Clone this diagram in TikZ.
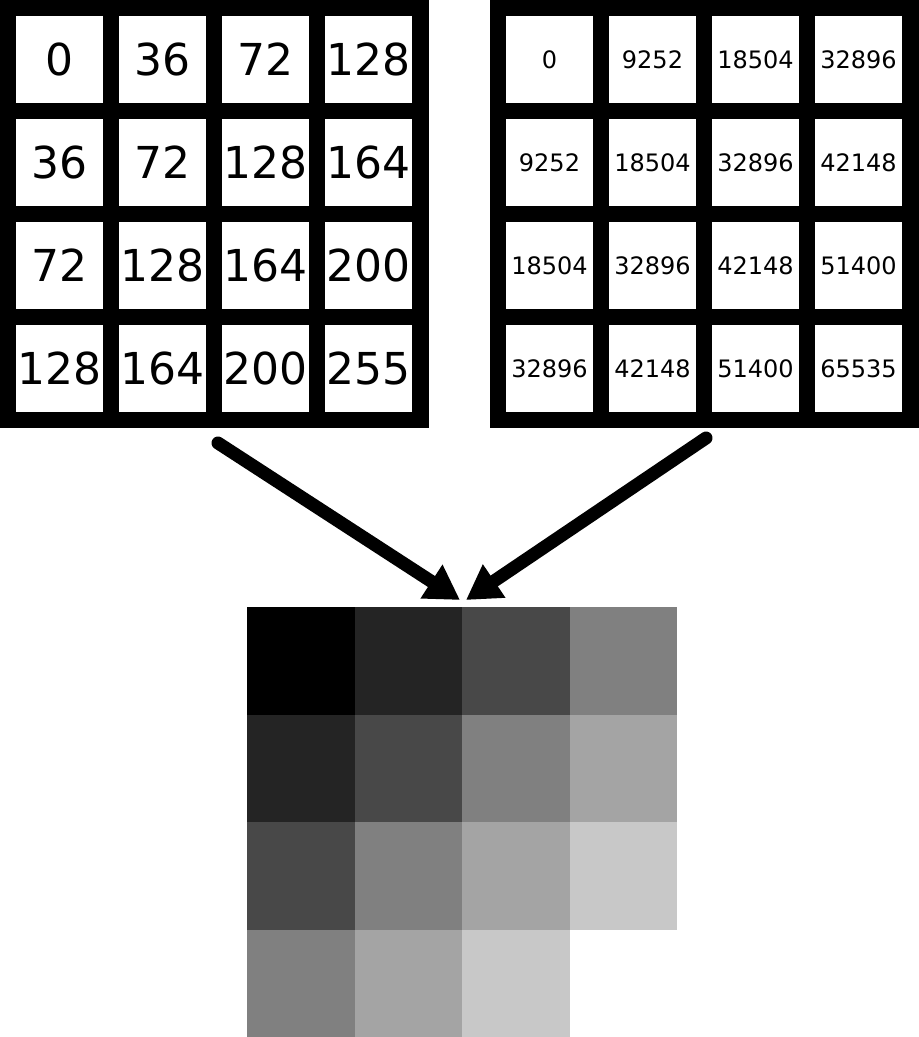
\documentclass[tikz,border=0pt]{standalone}
\usepackage{fontspec}
\setmainfont{DejaVu Sans}
\usetikzlibrary{arrows.meta, positioning}
\definecolor{c0}{RGB}{0,0,0}
\definecolor{c36}{RGB}{36,36,36}
\definecolor{c72}{RGB}{72,72,72}
\definecolor{c128}{RGB}{128,128,128}
\definecolor{c164}{RGB}{164,164,164}
\definecolor{c200}{RGB}{200,200,200}
\definecolor{c255}{RGB}{255,255,255}
\tikzstyle{board} = [fill=black, minimum width=429pt, minimum height=428pt, inner sep=0pt]
\tikzstyle{big}   = [fill=white, minimum size=87pt, inner sep=0pt, font=\fontsize{44}{44}\selectfont]
\tikzstyle{small} = [fill=white, minimum size=87pt, inner sep=0pt, font=\fontsize{24}{24}\selectfont]
\tikzstyle{px}    = [minimum size=107.5pt, inner sep=0pt]
\tikzstyle{arr}   = [draw, line width=13pt, line cap=round, -{Triangle[length=34pt, width=38pt]}]

\begin{document}
\begin{tikzpicture}[x=1pt, y=-1pt]
\useasboundingbox (0,0) rectangle (919,1037);

% boards
\node [board] at ( 214  , 214 ) (eight)   {};
\node [board] at ( 704.5, 214 ) (sixteen) {};

% 8 bit values
\node [big] at (  59.5,  59.5 ) (e11) {0};
\node [big] at ( 162.5,  59.5 ) (e12) {36};
\node [big] at ( 265.5,  59.5 ) (e13) {72};
\node [big] at ( 368.5,  59.5 ) (e14) {128};
\node [big] at (  59.5, 162.5 ) (e21) {36};
\node [big] at ( 162.5, 162.5 ) (e22) {72};
\node [big] at ( 265.5, 162.5 ) (e23) {128};
\node [big] at ( 368.5, 162.5 ) (e24) {164};
\node [big] at (  59.5, 265.5 ) (e31) {72};
\node [big] at ( 162.5, 265.5 ) (e32) {128};
\node [big] at ( 265.5, 265.5 ) (e33) {164};
\node [big] at ( 368.5, 265.5 ) (e34) {200};
\node [big] at (  59.5, 368.5 ) (e41) {128};
\node [big] at ( 162.5, 368.5 ) (e42) {164};
\node [big] at ( 265.5, 368.5 ) (e43) {200};
\node [big] at ( 368.5, 368.5 ) (e44) {255};

% 16 bit values
\node [small] at ( 549.5,  59.5 ) (s11) {0};
\node [small] at ( 652.5,  59.5 ) (s12) {9252};
\node [small] at ( 755.5,  59.5 ) (s13) {18504};
\node [small] at ( 858.5,  59.5 ) (s14) {32896};
\node [small] at ( 549.5, 162.5 ) (s21) {9252};
\node [small] at ( 652.5, 162.5 ) (s22) {18504};
\node [small] at ( 755.5, 162.5 ) (s23) {32896};
\node [small] at ( 858.5, 162.5 ) (s24) {42148};
\node [small] at ( 549.5, 265.5 ) (s31) {18504};
\node [small] at ( 652.5, 265.5 ) (s32) {32896};
\node [small] at ( 755.5, 265.5 ) (s33) {42148};
\node [small] at ( 858.5, 265.5 ) (s34) {51400};
\node [small] at ( 549.5, 368.5 ) (s41) {32896};
\node [small] at ( 652.5, 368.5 ) (s42) {42148};
\node [small] at ( 755.5, 368.5 ) (s43) {51400};
\node [small] at ( 858.5, 368.5 ) (s44) {65535};

% pixels
\node [px, fill=c0]   at ( 300.75, 660.75 ) (p11) {};
\node [px, fill=c36]  at ( 408.25, 660.75 ) (p12) {};
\node [px, fill=c72]  at ( 515.75, 660.75 ) (p13) {};
\node [px, fill=c128] at ( 623.25, 660.75 ) (p14) {};
\node [px, fill=c36]  at ( 300.75, 768.25 ) (p21) {};
\node [px, fill=c72]  at ( 408.25, 768.25 ) (p22) {};
\node [px, fill=c128] at ( 515.75, 768.25 ) (p23) {};
\node [px, fill=c164] at ( 623.25, 768.25 ) (p24) {};
\node [px, fill=c72]  at ( 300.75, 875.75 ) (p31) {};
\node [px, fill=c128] at ( 408.25, 875.75 ) (p32) {};
\node [px, fill=c164] at ( 515.75, 875.75 ) (p33) {};
\node [px, fill=c200] at ( 623.25, 875.75 ) (p34) {};
\node [px, fill=c128] at ( 300.75, 983.25 ) (p41) {};
\node [px, fill=c164] at ( 408.25, 983.25 ) (p42) {};
\node [px, fill=c200] at ( 515.75, 983.25 ) (p43) {};
\node [px, fill=c255] at ( 623.25, 983.25 ) (p44) {};

% arrow ends
\coordinate (from8)  at ( 218, 443 );
\coordinate (from16) at ( 706, 438 );
\coordinate (to8)    at ( 460, 600 );
\coordinate (to16)   at ( 466, 600 );

%  edges
\path [arr] (from8)  -- (to8);
\path [arr] (from16) -- (to16);

\end{tikzpicture}
\end{document}
